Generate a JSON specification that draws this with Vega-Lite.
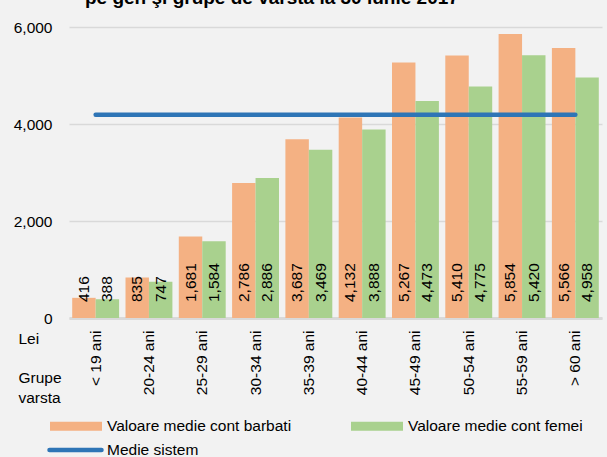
{
  "$schema": "https://vega.github.io/schema/vega-lite/v6.json",
  "width": 533,
  "height": 291,
  "autosize": {"type": "none"},
  "padding": {"left": 69, "top": 27, "right": 5, "bottom": 139},
  "background": "#f2f2f2",
  "title": {
    "text": "pe gen şi grupe de vârstă la 30 iunie 2017",
    "anchor": "start",
    "frame": "group",
    "dx": 16,
    "dy": 17,
    "offset": 14,
    "baseline": "alphabetic",
    "fontSize": 19,
    "fontWeight": "bold",
    "color": "#000000"
  },
  "datasets": {
    "bars": [
      {"grupa": "< 19 ani", "serie": "Valoare medie cont barbati", "valoare": 416},
      {"grupa": "< 19 ani", "serie": "Valoare medie cont femei", "valoare": 388},
      {"grupa": "20-24 ani", "serie": "Valoare medie cont barbati", "valoare": 835},
      {"grupa": "20-24 ani", "serie": "Valoare medie cont femei", "valoare": 747},
      {"grupa": "25-29 ani", "serie": "Valoare medie cont barbati", "valoare": 1681},
      {"grupa": "25-29 ani", "serie": "Valoare medie cont femei", "valoare": 1584},
      {"grupa": "30-34 ani", "serie": "Valoare medie cont barbati", "valoare": 2786},
      {"grupa": "30-34 ani", "serie": "Valoare medie cont femei", "valoare": 2886},
      {"grupa": "35-39 ani", "serie": "Valoare medie cont barbati", "valoare": 3687},
      {"grupa": "35-39 ani", "serie": "Valoare medie cont femei", "valoare": 3469},
      {"grupa": "40-44 ani", "serie": "Valoare medie cont barbati", "valoare": 4132},
      {"grupa": "40-44 ani", "serie": "Valoare medie cont femei", "valoare": 3888},
      {"grupa": "45-49 ani", "serie": "Valoare medie cont barbati", "valoare": 5267},
      {"grupa": "45-49 ani", "serie": "Valoare medie cont femei", "valoare": 4473},
      {"grupa": "50-54 ani", "serie": "Valoare medie cont barbati", "valoare": 5410},
      {"grupa": "50-54 ani", "serie": "Valoare medie cont femei", "valoare": 4775},
      {"grupa": "55-59 ani", "serie": "Valoare medie cont barbati", "valoare": 5854},
      {"grupa": "55-59 ani", "serie": "Valoare medie cont femei", "valoare": 5420},
      {"grupa": "> 60 ani", "serie": "Valoare medie cont barbati", "valoare": 5566},
      {"grupa": "> 60 ani", "serie": "Valoare medie cont femei", "valoare": 4958}
    ],
    "medie": [
      {"grupa": "< 19 ani", "serie": "Medie sistem", "valoare": 4190},
      {"grupa": "20-24 ani", "serie": "Medie sistem", "valoare": 4190},
      {"grupa": "25-29 ani", "serie": "Medie sistem", "valoare": 4190},
      {"grupa": "30-34 ani", "serie": "Medie sistem", "valoare": 4190},
      {"grupa": "35-39 ani", "serie": "Medie sistem", "valoare": 4190},
      {"grupa": "40-44 ani", "serie": "Medie sistem", "valoare": 4190},
      {"grupa": "45-49 ani", "serie": "Medie sistem", "valoare": 4190},
      {"grupa": "50-54 ani", "serie": "Medie sistem", "valoare": 4190},
      {"grupa": "55-59 ani", "serie": "Medie sistem", "valoare": 4190},
      {"grupa": "> 60 ani", "serie": "Medie sistem", "valoare": 4190}
    ]
  },
  "config": {
    "font": "Liberation Sans",
    "view": {"stroke": null},
    "axis": {"labelColor": "#000000", "titleColor": "#000000"},
    "legend": {"labelColor": "#000000"}
  },
  "layer": [
    {
      "data": {"name": "bars"},
      "mark": {"type": "bar"},
      "encoding": {
        "x": {
          "field": "grupa",
          "type": "nominal",
          "sort": null,
          "scale": {
            "domain": ["< 19 ani", "20-24 ani", "25-29 ani", "30-34 ani", "35-39 ani", "40-44 ani", "45-49 ani", "50-54 ani", "55-59 ani", "> 60 ani"],
            "paddingInner": 0.12,
            "paddingOuter": 0.06
          },
          "axis": {
            "title": ["Grupe", "varsta"],
            "titleAngle": 0,
            "titleAlign": "left",
            "titleBaseline": "alphabetic",
            "titleX": -51,
            "titleY": 64,
            "titleLineHeight": 20,
            "titleFontWeight": "normal",
            "titleFontSize": 15.5,
            "labelAngle": 270,
            "labelAlign": "right",
            "labelBaseline": "middle",
            "labelPadding": 12,
            "labelFontSize": 15.5,
            "ticks": false,
            "domainColor": "#d9d9d9",
            "domainWidth": 3
          }
        },
        "xOffset": {
          "field": "serie",
          "type": "nominal",
          "sort": ["Valoare medie cont barbati", "Valoare medie cont femei"],
          "scale": {"paddingInner": 0, "paddingOuter": 0}
        },
        "y": {
          "field": "valoare",
          "type": "quantitative",
          "scale": {"domain": [0, 6000], "nice": false},
          "axis": {
            "title": "Lei",
            "titleAngle": 0,
            "titleAlign": "left",
            "titleBaseline": "alphabetic",
            "titleX": -51,
            "titleY": 316,
            "titleFontWeight": "normal",
            "titleFontSize": 15.5,
            "values": [0, 2000, 4000, 6000],
            "format": ",.0f",
            "labelFontSize": 15.5,
            "labelPadding": 17,
            "ticks": false,
            "domain": false,
            "grid": true,
            "gridColor": "#d9d9d9",
            "gridWidth": 1.5
          }
        },
        "fill": {
          "field": "serie",
          "type": "nominal",
          "scale": {
            "domain": ["Valoare medie cont barbati", "Valoare medie cont femei"],
            "range": ["#F4B183", "#A9D18E"]
          },
          "legend": {
            "title": null,
            "orient": "none",
            "legendX": -19,
            "legendY": 373,
            "direction": "horizontal",
            "symbolType": "M-1,-0.173H1V0.173H-1Z",
            "symbolSize": 2704,
            "symbolStrokeWidth": 0,
            "labelOffset": 5,
            "columnPadding": 59,
            "labelFontSize": 15.5,
            "labelLimit": 400,
            "padding": 0
          }
        }
      }
    },
    {
      "data": {"name": "bars"},
      "mark": {"type": "text", "angle": 270, "align": "left", "baseline": "middle", "dx": 16, "fontSize": 15.5, "color": "#000000"},
      "encoding": {
        "x": {"field": "grupa", "type": "nominal", "sort": null},
        "xOffset": {"field": "serie", "type": "nominal", "sort": ["Valoare medie cont barbati", "Valoare medie cont femei"]},
        "y": {"datum": 0, "type": "quantitative"},
        "text": {"field": "valoare", "type": "quantitative", "format": ",.0f"}
      }
    },
    {
      "data": {"name": "medie"},
      "mark": {"type": "line", "strokeWidth": 4.5, "strokeCap": "round"},
      "encoding": {
        "x": {"field": "grupa", "type": "nominal", "sort": null},
        "y": {"field": "valoare", "type": "quantitative"},
        "stroke": {
          "field": "serie",
          "type": "nominal",
          "scale": {"domain": ["Medie sistem"], "range": ["#2E75B6"]},
          "legend": {
            "title": null,
            "orient": "none",
            "legendX": -22,
            "legendY": 394.5,
            "symbolType": "stroke",
            "symbolSize": 2704,
            "symbolStrokeWidth": 4.5,
            "labelOffset": 3,
            "labelFontSize": 15.5,
            "padding": 0,
            "encode": {"symbols": {"update": {"strokeCap": {"value": "round"}}}}
          }
        }
      }
    }
  ]
}
